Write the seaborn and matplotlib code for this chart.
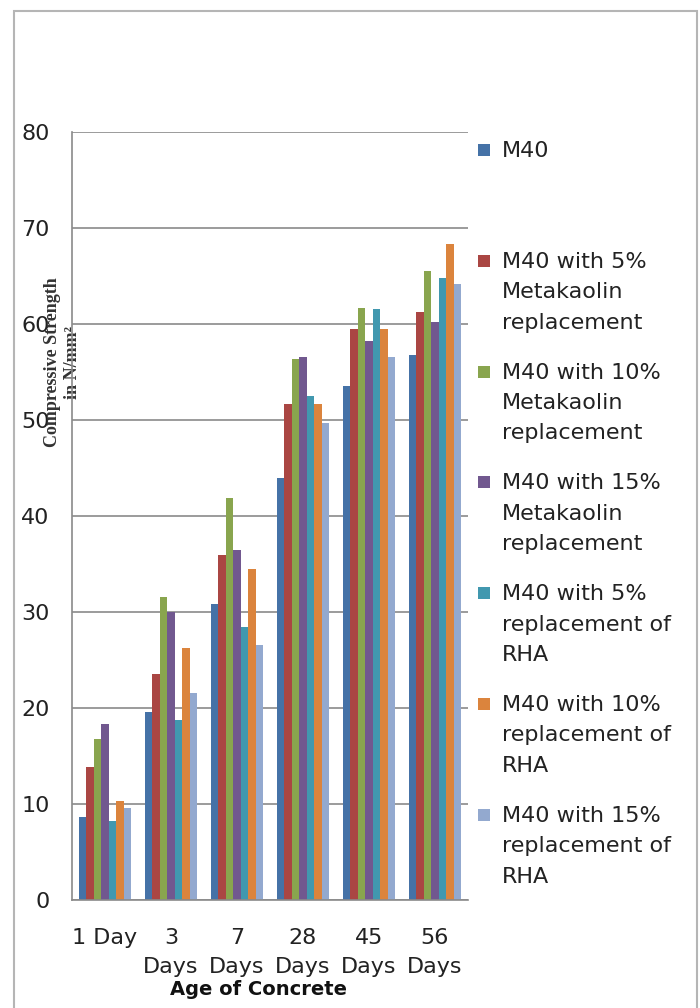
import pandas as pd
import matplotlib
matplotlib.use('Agg')
import matplotlib.pyplot as plt
import seaborn as sns
from matplotlib.patches import Rectangle

# Datos
ages = ['1 Day', '3\nDays', '7\nDays', '28\nDays', '45\nDays', '56\nDays']
mixes = ['M40',
         'M40 with 5%\nMetakaolin\nreplacement',
         'M40 with 10%\nMetakaolin\nreplacement',
         'M40 with 15%\nMetakaolin\nreplacement',
         'M40 with 5%\nreplacement of\nRHA',
         'M40 with 10%\nreplacement of\nRHA',
         'M40 with 15%\nreplacement of\nRHA']
m40 = [8.6, 19.6, 30.8, 44.0, 53.5, 56.8]
mk5 = [13.9, 23.5, 35.9, 51.7, 59.5, 61.3]
mk10 = [16.8, 31.6, 41.9, 56.4, 61.7, 65.5]
mk15 = [18.3, 30.0, 36.5, 56.6, 58.2, 60.2]
rha5 = [8.2, 18.7, 28.4, 52.5, 61.6, 64.8]
rha10 = [10.3, 26.3, 34.5, 51.7, 59.5, 68.3]
rha15 = [9.6, 21.6, 26.6, 49.7, 56.6, 64.2]
yticks = [0, 10, 20, 30, 40, 50, 60, 70, 80]

colors = ['#4572A7', '#AA4643', '#89A54E', '#71588F', '#4198AF', '#DB843D', '#93A9CF']

series = [m40, mk5, mk10, mk15, rha5, rha10, rha15]
rows = []
for mix, vals in zip(mixes, series):
    for age, v in zip(ages, vals):
        rows.append({'age': age, 'mix': mix, 'strength': v})
df = pd.DataFrame(rows)

sns.set_style('white')
plt.rcParams['font.family'] = ['DejaVu Sans']

W, H = 700, 1008
fig = plt.figure(figsize=(7, 10.08), dpi=100)
ax = fig.add_axes([72 / W, 1 - 900 / H, 396 / W, 768 / H])

sns.barplot(data=df, x='age', y='strength', hue='mix', order=ages, hue_order=mixes,
            palette=colors, saturation=1, width=0.8, legend=False, ax=ax,
            edgecolor='none', errorbar=None)

gray = '#8a8a8a'
ax.set_ylim(0, 80)
ax.set_xlim(-0.5, len(ages) - 0.5)
ax.set_yticks(yticks)
ax.yaxis.grid(True, color=gray, linewidth=1.2)
ax.set_axisbelow(True)
for s in ['top', 'right']:
    ax.spines[s].set_visible(False)
for s in ['left', 'bottom']:
    ax.spines[s].set_color(gray)
    ax.spines[s].set_linewidth(1.2)

ax.tick_params(axis='y', length=6, width=1.2, color=gray, pad=10,
               labelsize=16, labelcolor='#222222')
ax.set_xticks(range(len(ages)))
ax.set_xticklabels(ages)
ax.set_xticks([i - 0.5 for i in range(len(ages) + 1)], minor=True)
ax.tick_params(axis='x', which='major', length=0, pad=20, labelsize=16, labelcolor='#222222')
ax.tick_params(axis='x', which='minor', length=6, width=1.2, color=gray)
for lab in ax.get_xticklabels():
    lab.set_linespacing(1.6)

ax.set_xlabel('Age of Concrete', fontsize=14, fontweight='bold', color='#111111')
ax.xaxis.set_label_coords(0.47, -0.104)
ax.set_ylabel('Compressive Strength\nin N/mm²', fontsize=13, fontweight='bold',
              family=['Liberation Serif', 'DejaVu Serif'], color='#333333', linespacing=1.2)
ax.yaxis.set_label_coords(0.022, 0.70)

# Leyenda manual a la derecha
for i, (mix, c) in enumerate(zip(mixes, colors)):
    yc = 150 + i * 110.8
    fig.add_artist(Rectangle((478 / W, 1 - (yc + 6) / H), 12 / W, 12 / H,
                             transform=fig.transFigure, facecolor=c, edgecolor='none'))
    fig.text(502 / W, 1 - (yc - 9) / H, mix, fontsize=16, color='#222222',
             va='top', ha='left', linespacing=1.65)

# Marco del gráfico
fig.add_artist(Rectangle((14 / W, -0.02), 683 / W, 1 - 11 / H + 0.02,
                         transform=fig.transFigure, fill=False,
                         edgecolor='#b5b5b5', linewidth=1.5))

plt.savefig('out.png', dpi=100)
plt.close()
